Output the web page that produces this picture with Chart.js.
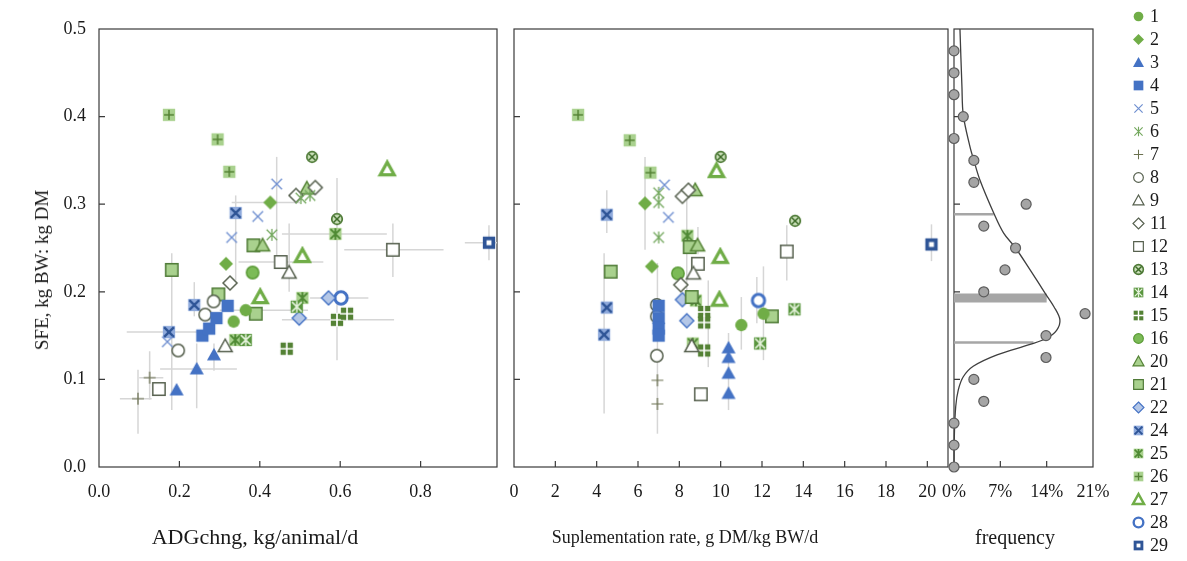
<!DOCTYPE html>
<html>
<head>
<meta charset="utf-8">
<script src="https://cdn.jsdelivr.net/npm/chart.js@4.4.1/dist/chart.umd.min.js"></script>
<style>
  body { margin: 0; background: #fff; width: 1187px; height: 561px; position: relative; overflow: hidden;
         font-family: "Liberation Serif", "Times New Roman", serif; color: #1a1a1a; }
  canvas.layer { position: absolute; left: 0; top: 0; }
  .cap { position: absolute; font-size: 18px; white-space: nowrap; transform: translate(-50%, -50%); }
  .cap.rot { transform: translate(-50%, -50%) rotate(-90deg); }
  #legend { position: absolute; left: 1130px; top: 5px; font-size: 18px; }
  #legend .row { height: 23px; display: flex; align-items: center; }
  #legend span { line-height: 23px; margin-left: 3px; }
</style>
</head>
<body>
<canvas id="adgChart" class="layer" width="1187" height="561"></canvas>
<canvas id="rateChart" class="layer" width="1187" height="561"></canvas>
<canvas id="freqChart" class="layer" width="1187" height="561"></canvas>
<div class="cap rot" style="left:42px; top:270px; font-size:19px;">SFE, kg BW: kg DM</div>
<div class="cap" style="left:255px; top:537px; font-size:22px;">ADGchng, kg/animal/d</div>
<div class="cap" style="left:685px; top:537px;">Suplementation rate, g DM/kg BW/d</div>
<div class="cap" style="left:1015px; top:537px; font-size:20px;">frequency</div>
<div id="legend"></div>
<script>
// study ids, in legend order
const seriesIds = ['1','2','3','4','5','6','7','8','9','11','12','13','14','15','16','20','21','22','24','25','26','27','28','29'];

// [ADGchng, SFE] per study (same order as seriesIds)
const adgSeries = [
  [[0.365,0.179],[0.335,0.166]],
  [[0.426,0.302],[0.316,0.232]],
  [[0.286,0.128],[0.243,0.112],[0.193,0.088]],
  [[0.257,0.150],[0.274,0.158],[0.292,0.170],[0.320,0.184]],
  [[0.442,0.323],[0.395,0.286],[0.330,0.262],[0.170,0.143]],
  [[0.502,0.307],[0.525,0.310],[0.430,0.265]],
  [[0.126,0.102],[0.097,0.078]],
  [[0.264,0.174],[0.285,0.189],[0.197,0.133]],
  [[0.473,0.222],[0.314,0.138]],
  [[0.490,0.310],[0.538,0.319],[0.326,0.210]],
  [[0.452,0.234],[0.731,0.248],[0.149,0.089]],
  [[0.530,0.354],[0.592,0.283]],
  [[0.365,0.145],[0.492,0.183]],
  [[0.592,0.168],[0.617,0.175],[0.467,0.135]],
  [[0.382,0.222]],
  [[0.517,0.318],[0.407,0.253]],
  [[0.181,0.225],[0.384,0.253],[0.297,0.197],[0.390,0.175]],
  [[0.571,0.193],[0.498,0.170]],
  [[0.340,0.290],[0.237,0.185],[0.174,0.154]],
  [[0.588,0.266],[0.506,0.193],[0.339,0.145]],
  [[0.174,0.402],[0.295,0.374],[0.324,0.337]],
  [[0.717,0.340],[0.506,0.241],[0.401,0.194]],
  [[0.602,0.193]],
  [[0.970,0.256]]
];

// [supplementation rate, SFE] per study
const rateSeries = [
  [[12.07,0.175],[11.0,0.162]],
  [[6.34,0.301],[6.67,0.229]],
  [[10.38,0.136],[10.38,0.125],[10.38,0.107],[10.38,0.084]],
  [[7.0,0.184],[7.0,0.170],[7.0,0.158],[7.0,0.150]],
  [[7.28,0.322],[7.47,0.285]],
  [[7.0,0.313],[7.0,0.302],[7.0,0.262]],
  [[6.94,0.099],[6.94,0.072]],
  [[6.91,0.185],[6.91,0.172],[6.91,0.127]],
  [[8.68,0.221],[8.6,0.138]],
  [[8.15,0.309],[8.44,0.316],[8.07,0.208]],
  [[8.9,0.232],[13.2,0.246],[9.04,0.083]],
  [[10.0,0.354],[13.6,0.281]],
  [[13.57,0.180],[11.91,0.141]],
  [[9.2,0.177],[9.2,0.165],[9.2,0.133]],
  [[7.93,0.221]],
  [[8.77,0.316],[8.88,0.253]],
  [[4.68,0.223],[8.5,0.251],[8.6,0.194],[12.48,0.172]],
  [[8.15,0.191],[8.36,0.167]],
  [[4.49,0.288],[4.49,0.182],[4.36,0.151]],
  [[8.39,0.264],[8.8,0.190],[8.65,0.141]],
  [[3.1,0.402],[5.6,0.373],[6.6,0.336]],
  [[9.8,0.338],[9.98,0.240],[9.94,0.191]],
  [[11.83,0.190]],
  [[20.2,0.254]]
];

// error bars: [x, y, xLow, xHigh, yLow, yHigh]
const adgErrors = [
  [0.592,0.168,0.455,0.734,0.122,0.330],
  [0.731,0.248,0.610,0.857,0.217,0.278],
  [0.970,0.256,0.910,1.000,0.236,0.276],
  [0.588,0.266,0.455,0.716,null,null],
  [0.181,0.225,null,null,0.065,0.244],
  [0.174,0.154,0.069,0.252,null,null],
  [0.243,0.112,0.152,0.343,0.067,0.141],
  [0.286,0.128,null,null,0.110,0.141],
  [0.237,0.185,null,null,0.172,0.211],
  [0.097,0.078,0.052,0.131,0.038,0.111],
  [0.126,0.102,0.100,0.160,0.077,0.132],
  [0.365,0.179,0.300,0.520,null,null],
  [0.473,0.222,null,null,0.200,0.278],
  [0.442,0.323,null,null,0.240,0.354],
  [0.340,0.290,null,null,0.213,0.310],
  [0.426,0.302,0.330,0.500,null,null],
  [0.571,0.193,0.525,0.670,null,null],
  [0.452,0.234,0.347,0.558,null,null]
];
const rateErrors = [
  [4.36,0.151,null,null,0.061,0.244],
  [4.49,0.288,null,null,0.267,0.316],
  [6.34,0.301,null,null,0.248,0.354],
  [6.94,0.072,null,null,0.038,0.233],
  [8.36,0.250,null,null,0.190,0.310],
  [8.9,0.240,null,null,0.243,0.274],
  [9.4,0.170,null,null,0.114,0.213],
  [11.0,0.162,null,null,0.134,0.194],
  [11.75,0.190,null,null,0.164,0.217],
  [12.07,0.175,null,null,0.122,0.229],
  [13.2,0.246,null,null,0.213,0.276],
  [10.38,0.084,null,null,0.065,0.153],
  [20.2,0.254,null,null,0.235,0.277]
];

// frequency panel: observed (%) per SFE class, fitted curve, mean / sd levels
const freqSfe = [0.475,0.45,0.425,0.4,0.375,0.35,0.325,0.3,0.275,0.25,0.225,0.2,0.175,0.15,0.125,0.1,0.075,0.05,0.025,0.0];
const freqPct = [0,0,0,1.4,0,3.0,3.0,10.9,4.5,9.3,7.7,4.5,19.8,13.9,13.9,3.0,4.5,0,0,0];
const curveSfe = [0.5,0.434,0.402,0.366,0.35,0.328,0.29,0.267,0.25,0.225,0.198,0.183,0.168,0.156,0.147,0.14,0.128,0.115,0.103,0.088,0.069,0.035,0.0];
const curvePct = [0.9,1.2,1.4,2.4,3.0,3.9,6.0,7.5,9.3,11.5,13.8,15.1,16.0,15.5,14.0,11.5,6.5,2.9,1.4,0.65,0.26,0.05,0.0];
const sdSfe = [0.2885,0.193,0.142];
const sdPct = [6.0,14.0,12.0];

const W = 1187, H = 561, PLOT_TOP = 29, PLOT_BOTTOM = 467;
const GREEN = '#70ad47', DKGREEN = '#548235', LTGREEN = '#a9d18e';
const BLUE = '#4472c4', DKBLUE = '#2f5597', LTBLUE = '#b4c7e7', GRAY = '#56604e';

const seriesStyles = [
  {shape:'circle', fill:GREEN},
  {shape:'diamond', fill:GREEN},
  {shape:'triangle', fill:BLUE},
  {shape:'square', fill:BLUE},
  {shape:'none', glyph:'x', glyphColor:'#6f8fd0', glw:1.4, gs:0.75},
  {shape:'none', glyph:'x|', glyphColor:'#74a85e', glw:1.3, gs:0.75},
  {shape:'none', glyph:'+', glyphColor:'#6b7150', glw:1.2, gs:0.85},
  {shape:'circle', fill:'#fff', stroke:GRAY, lw:1.5},
  {shape:'triangle', fill:'#fff', stroke:GRAY, lw:1.5},
  {shape:'diamond', fill:'#fff', stroke:GRAY, lw:1.5},
  {shape:'square', fill:'#fff', stroke:GRAY, lw:1.5},
  {shape:'circle', fill:'#c9dfb8', stroke:'#4e7a36', lw:2, glyph:'x', glyphColor:'#3d6b28', glw:1.7, gs:0.55, size:12},
  {shape:'square', fill:'#5a963f', glyph:'x|', glyphColor:'#e4f1da', glw:1.5},
  {shape:'square', fill:DKGREEN, glyph:'+', glyphColor:'#fff', glw:1.7, gs:1.0},
  {shape:'circle', fill:'#7cbb57', stroke:'#5a9a36', lw:1.5},
  {shape:'triangle', fill:LTGREEN, stroke:DKGREEN, lw:1.5},
  {shape:'square', fill:LTGREEN, stroke:'#4f7a37', lw:1.5},
  {shape:'diamond', fill:LTBLUE, stroke:BLUE, lw:1.4},
  {shape:'square', fill:'#8faadc', glyph:'x', glyphColor:DKBLUE, glw:2.4},
  {shape:'square', fill:LTGREEN, glyph:'x|', glyphColor:'#4f8a34', glw:1.9},
  {shape:'square', fill:LTGREEN, glyph:'+', glyphColor:DKGREEN, glw:1.5},
  {shape:'triangle', fill:'#fff', stroke:GREEN, lw:3.2},
  {shape:'circle', fill:'#fff', stroke:BLUE, lw:3},
  {shape:'square', fill:DKBLUE, dot:'#fff'}
];

function makeMarker(st, size) {
  const pad = 3, n = size + pad * 2;
  const c = document.createElement('canvas');
  c.width = c.height = n;
  const g = c.getContext('2d');
  const m = n / 2, r = size / 2, f = size / 14;
  g.lineWidth = (st.lw || 1.2) * f;
  g.beginPath();
  if (st.shape === 'circle') g.arc(m, m, r * 0.88, 0, Math.PI * 2);
  else if (st.shape === 'square') g.rect(m - r * 0.88, m - r * 0.88, r * 1.76, r * 1.76);
  else if (st.shape === 'diamond') { g.moveTo(m, m - r); g.lineTo(m + r, m); g.lineTo(m, m + r); g.lineTo(m - r, m); g.closePath(); }
  else if (st.shape === 'triangle') { g.moveTo(m, m - r); g.lineTo(m + r, m + r * 0.8); g.lineTo(m - r, m + r * 0.8); g.closePath(); }
  if (st.fill) { g.fillStyle = st.fill; g.fill(); }
  if (st.stroke) { g.strokeStyle = st.stroke; g.stroke(); }
  if (st.glyph) {
    const k = r * (st.gs || 0.7);
    g.beginPath();
    g.strokeStyle = st.glyphColor;
    g.lineWidth = (st.glw || 1.2) * Math.max(f, 0.85);
    if (st.glyph.includes('x')) { g.moveTo(m - k, m - k); g.lineTo(m + k, m + k); g.moveTo(m + k, m - k); g.lineTo(m - k, m + k); }
    if (st.glyph.includes('+')) { g.moveTo(m - k, m); g.lineTo(m + k, m); g.moveTo(m, m - k); g.lineTo(m, m + k); }
    if (st.glyph.includes('|')) { g.moveTo(m, m - k * 1.15); g.lineTo(m, m + k * 1.15); }
    g.stroke();
  }
  if (st.dot) { g.fillStyle = st.dot; g.fillRect(m - r * 0.35, m - r * 0.35, r * 0.7, r * 0.7); }
  return c;
}

// plot frame + inward tick marks
const framePlugin = {
  id: 'frame',
  beforeDatasetsDraw(chart) {
    const {ctx, chartArea: a, scales: {x, y}} = chart;
    ctx.save();
    ctx.strokeStyle = '#3a3a3a';
    ctx.lineWidth = 1.2;
    ctx.strokeRect(a.left, a.top, a.right - a.left, a.bottom - a.top);
    ctx.beginPath();
    x.ticks.forEach(t => {
      if (t.value <= x.min || t.value >= x.max) return;
      const px = x.getPixelForValue(t.value);
      ctx.moveTo(px, a.bottom); ctx.lineTo(px, a.bottom - 6);
    });
    y.ticks.forEach(t => {
      if (t.value <= y.min || t.value >= y.max) return;
      const py = y.getPixelForValue(t.value);
      ctx.moveTo(a.left, py); ctx.lineTo(a.left + 6, py);
    });
    ctx.stroke();
    ctx.restore();
  }
};

const errorBarPlugin = {
  id: 'errorBars',
  beforeDatasetsDraw(chart, args, opts) {
    const bars = opts.bars || [];
    if (!bars.length) return;
    const {ctx, chartArea: a, scales: {x, y}} = chart;
    ctx.save();
    ctx.beginPath();
    ctx.rect(a.left, a.top, a.right - a.left, a.bottom - a.top);
    ctx.clip();
    ctx.strokeStyle = '#d6d6d6';
    ctx.lineWidth = 1.5;
    bars.forEach(([vx, vy, xlo, xhi, ylo, yhi]) => {
      ctx.beginPath();
      if (xlo != null) {
        ctx.moveTo(x.getPixelForValue(xlo), y.getPixelForValue(vy));
        ctx.lineTo(x.getPixelForValue(xhi), y.getPixelForValue(vy));
      }
      if (ylo != null) {
        ctx.moveTo(x.getPixelForValue(vx), y.getPixelForValue(ylo));
        ctx.lineTo(x.getPixelForValue(vx), y.getPixelForValue(yhi));
      }
      ctx.stroke();
    });
    ctx.restore();
  }
};

const tickFont = {family: '"Liberation Serif", "Times New Roman", serif', size: 18};

function panel(canvasId, box, xCfg, showY, datasets, errors) {
  return new Chart(document.getElementById(canvasId), {
    type: 'scatter',
    data: {datasets},
    options: {
      responsive: false,
      animation: false,
      devicePixelRatio: 1,
      layout: {padding: {left: 0, right: W - box.right, top: PLOT_TOP, bottom: 0}},
      plugins: {legend: {display: false}, tooltip: {enabled: false}, errorBars: {bars: errors || []}},
      scales: {
        x: {
          type: 'linear', min: xCfg.min, max: xCfg.max,
          grid: {display: false, drawTicks: false}, border: {display: false},
          ticks: {stepSize: xCfg.step, includeBounds: false, autoSkip: false, maxRotation: 0,
                  padding: 14, font: tickFont, color: '#1a1a1a', callback: xCfg.fmt},
          afterFit(s) { s.height = H - PLOT_BOTTOM; }
        },
        y: {
          type: 'linear', min: 0, max: 0.5,
          grid: {display: false, drawTicks: false}, border: {display: false},
          ticks: {display: showY, stepSize: 0.1, padding: 13, font: tickFont, color: '#1a1a1a',
                  callback: v => v.toFixed(1)},
          afterFit(s) { s.width = box.left; }
        }
      }
    },
    plugins: [framePlugin, errorBarPlugin]
  });
}

const plotMarkers = seriesStyles.map(st => makeMarker(st, st.size || 14));

function studyDatasets(series) {
  return seriesIds.map((id, i) => ({
    label: id,
    data: series[i].map(([x, y]) => ({x, y})),
    pointStyle: plotMarkers[i],
    pointRadius: 7,
    clip: false
  }));
}

panel('adgChart', {left: 99, right: 497},
  {min: 0, max: 0.99, step: 0.2, fmt: v => v.toFixed(1)}, true,
  studyDatasets(adgSeries), adgErrors);

panel('rateChart', {left: 514, right: 948},
  {min: 0, max: 21, step: 2, fmt: v => String(v)}, false,
  studyDatasets(rateSeries), rateErrors);

const freqDatasets = [
  {label: 'observed', data: freqPct.map((p, i) => ({x: p, y: freqSfe[i]})),
   pointRadius: 5, pointBackgroundColor: '#a5a5a5', pointBorderColor: '#5c5c5c', pointBorderWidth: 1.2, clip: false},
  {label: 'fitted', data: curvePct.map((p, i) => ({x: p, y: curveSfe[i]})),
   showLine: true, borderColor: '#3f3f3f', borderWidth: 1.3, pointRadius: 0, tension: 0.35, clip: false}
].concat(sdSfe.map((v, i) => ({
  label: 'level ' + i, data: [{x: 0, y: v}, {x: sdPct[i], y: v}],
  showLine: true, borderColor: '#a6a6a6', borderWidth: i === 1 ? 9 : 2.5, pointRadius: 0
})));

panel('freqChart', {left: 954, right: 1093},
  {min: 0, max: 21, step: 7, fmt: v => v + '%'}, false,
  freqDatasets, []);

// legend
const legend = document.getElementById('legend');
seriesIds.forEach((id, i) => {
  const row = document.createElement('div');
  row.className = 'row';
  row.appendChild(makeMarker(seriesStyles[i], 11));
  const s = document.createElement('span');
  s.textContent = id;
  row.appendChild(s);
  legend.appendChild(row);
});
</script>
</body>
</html>
